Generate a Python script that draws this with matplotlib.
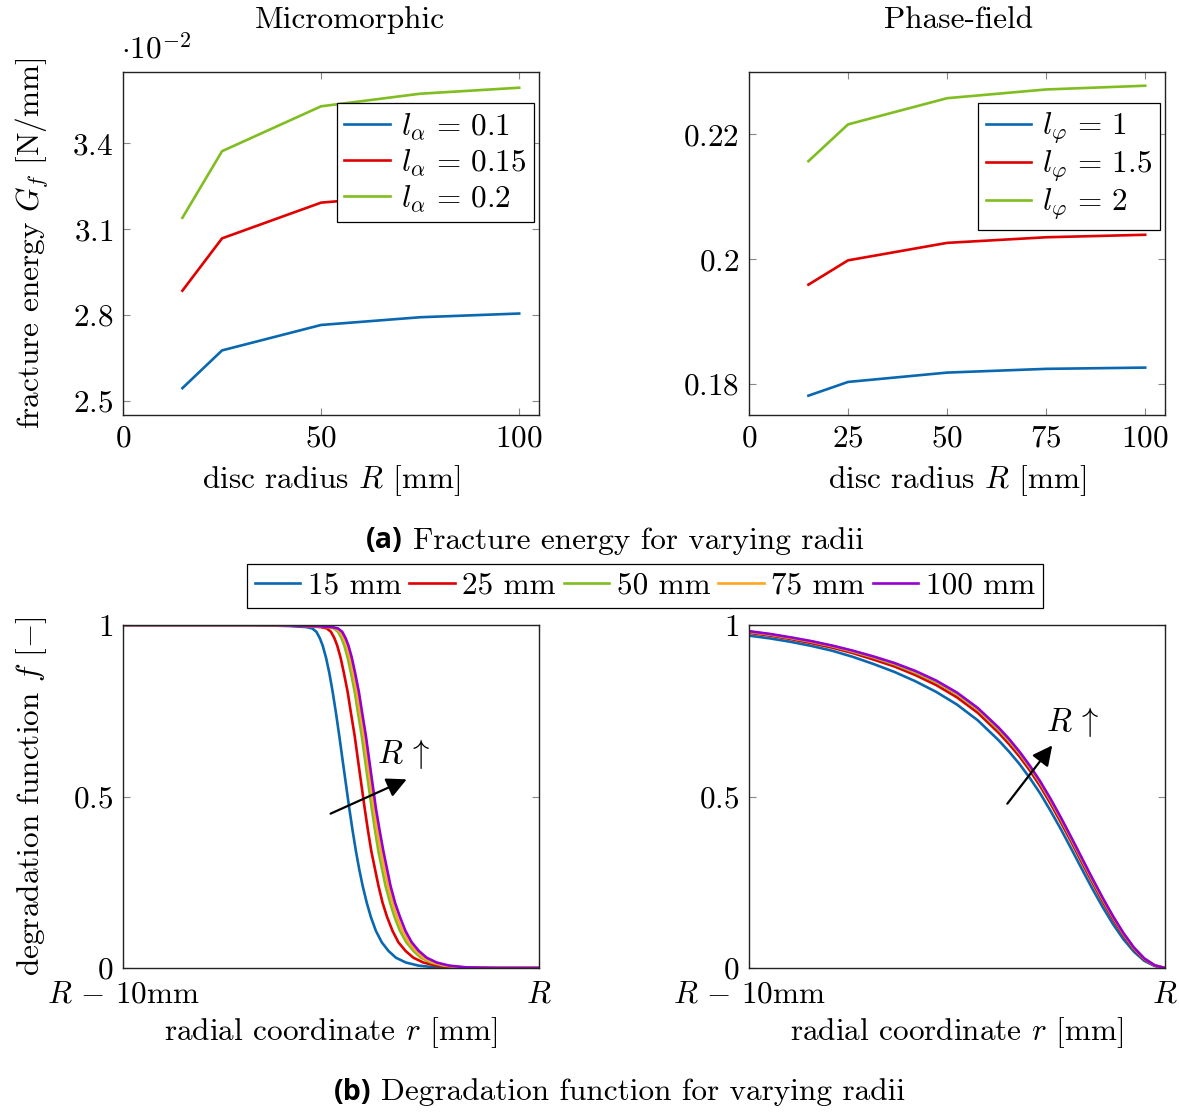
import matplotlib
matplotlib.use("Agg")
import matplotlib.pyplot as plt

plt.rcParams['font.family'] = 'serif'
plt.rcParams['font.serif'] = ['cmr10', 'DejaVu Serif']
plt.rcParams['mathtext.fontset'] = 'cm'
plt.rcParams['axes.formatter.use_mathtext'] = True
plt.rcParams['axes.unicode_minus'] = False

# ---------------- data ----------------
R_vals = [15, 25, 50, 75, 100]

# micromorphic fracture energy (units of 1e-2 N/mm)
gf_micro_01 = [2.544, 2.676, 2.765, 2.792, 2.805]
gf_micro_015 = [2.885, 3.068, 3.193, 3.222, 3.235]
gf_micro_02 = [3.140, 3.373, 3.530, 3.574, 3.595]
micro_labels = [r'$l_\alpha\,=\,0.1$', r'$l_\alpha\,=\,0.15$', r'$l_\alpha\,=\,0.2$']

# phase-field fracture energy (N/mm)
gf_pf_1 = [0.1781, 0.1803, 0.1818, 0.1824, 0.1826]
gf_pf_15 = [0.1959, 0.1998, 0.2026, 0.2035, 0.2039]
gf_pf_2 = [0.2157, 0.2216, 0.2258, 0.2272, 0.2278]
pf_labels = [r'$l_\varphi\,=\,1$', r'$l_\varphi\,=\,1.5$', r'$l_\varphi\,=\,2$']

micro_yticks = [2.5, 2.8, 3.1, 3.4]
pf_yticks = [0.18, 0.2, 0.22]

# degradation function, micromorphic (r measured from R-10mm, in mm)
deg_micro_f = [1.0, 1.0, 0.997, 0.994, 0.99, 0.98, 0.962, 0.94, 0.905, 0.86,
               0.805, 0.743, 0.676, 0.605, 0.535, 0.465, 0.40, 0.34, 0.287,
               0.24, 0.19, 0.148, 0.108, 0.075, 0.05, 0.03, 0.016, 0.007,
               0.002, 0.0, 0.0]
deg_micro_r15 = [0, 3.0, 4.0, 4.4, 4.55, 4.65, 4.73, 4.80, 4.88, 4.96, 5.04,
                 5.12, 5.20, 5.28, 5.36, 5.44, 5.52, 5.60, 5.68, 5.76, 5.86,
                 5.96, 6.08, 6.22, 6.38, 6.56, 6.80, 7.10, 7.50, 8.2, 10]
deg_micro_r25 = [0, 3.3, 4.35, 4.75, 4.90, 5.00, 5.08, 5.15, 5.23, 5.31, 5.40,
                 5.48, 5.57, 5.65, 5.73, 5.81, 5.89, 5.97, 6.06, 6.14, 6.24,
                 6.35, 6.48, 6.62, 6.79, 6.98, 7.22, 7.52, 7.92, 8.6, 10]
deg_micro_r50 = [0, 3.5, 4.5, 4.92, 5.07, 5.17, 5.25, 5.32, 5.40, 5.48, 5.57,
                 5.65, 5.74, 5.82, 5.90, 5.98, 6.06, 6.14, 6.23, 6.31, 6.42,
                 6.53, 6.66, 6.81, 6.98, 7.16, 7.40, 7.70, 8.10, 8.8, 10]
deg_micro_r75 = [0, 3.55, 4.55, 4.97, 5.12, 5.22, 5.30, 5.37, 5.45, 5.53, 5.62,
                 5.70, 5.79, 5.87, 5.95, 6.03, 6.11, 6.20, 6.29, 6.37, 6.48,
                 6.59, 6.72, 6.87, 7.04, 7.22, 7.46, 7.76, 8.16, 8.9, 10]
deg_micro_r100 = [0, 3.6, 4.6, 5.02, 5.17, 5.27, 5.35, 5.42, 5.50, 5.58, 5.67,
                  5.75, 5.84, 5.92, 6.00, 6.08, 6.17, 6.26, 6.35, 6.43, 6.54,
                  6.66, 6.79, 6.94, 7.11, 7.30, 7.54, 7.84, 8.24, 9.0, 10]

# degradation function, phase-field
deg_pf_r = [0, 0.5, 1, 1.5, 2, 2.5, 3, 3.5, 4, 4.5, 5, 5.5, 6, 6.25, 6.5,
            6.75, 7, 7.25, 7.5, 7.75, 8, 8.25, 8.5, 8.75, 9, 9.25, 9.5, 9.75, 10]
deg_pf_f15 = [0.969, 0.961, 0.951, 0.939, 0.925, 0.907, 0.886, 0.863, 0.836,
              0.805, 0.768, 0.722, 0.664, 0.631, 0.595, 0.554, 0.509, 0.458,
              0.404, 0.347, 0.289, 0.232, 0.178, 0.128, 0.084, 0.048, 0.021,
              0.006, 0.0]
deg_pf_f25 = [0.977, 0.969, 0.959, 0.947, 0.934, 0.918, 0.899, 0.879, 0.854,
              0.825, 0.789, 0.744, 0.686, 0.653, 0.617, 0.576, 0.530, 0.479,
              0.424, 0.367, 0.308, 0.250, 0.194, 0.142, 0.095, 0.055, 0.025,
              0.007, 0.0]
deg_pf_f50 = [0.980, 0.972, 0.962, 0.951, 0.938, 0.922, 0.905, 0.885, 0.861,
              0.833, 0.798, 0.753, 0.695, 0.662, 0.626, 0.585, 0.539, 0.488,
              0.433, 0.375, 0.316, 0.257, 0.201, 0.148, 0.099, 0.058, 0.027,
              0.008, 0.0]
deg_pf_f75 = [0.981, 0.973, 0.963, 0.952, 0.939, 0.924, 0.907, 0.888, 0.864,
              0.836, 0.801, 0.756, 0.699, 0.666, 0.629, 0.588, 0.542, 0.491,
              0.436, 0.378, 0.319, 0.260, 0.203, 0.150, 0.101, 0.059, 0.028,
              0.008, 0.0]
deg_pf_f100 = [0.982, 0.974, 0.964, 0.953, 0.940, 0.925, 0.908, 0.889, 0.866,
               0.838, 0.803, 0.758, 0.701, 0.668, 0.631, 0.590, 0.544, 0.493,
               0.438, 0.380, 0.321, 0.262, 0.205, 0.151, 0.102, 0.060, 0.028,
               0.008, 0.0]

radius_labels = ['15 mm', '25 mm', '50 mm', '75 mm', '100 mm']

# ---------------- style ----------------
C_BLUE, C_RED, C_GREEN, C_ORANGE, C_PURPLE = '#0a68b0', '#e10000', '#80bd20', '#ffa51f', '#9400d3'
colors5 = [C_BLUE, C_RED, C_GREEN, C_ORANGE, C_PURPLE]
FS = 22.5
LW = 1.9
W, H = 1179, 1113

fig = plt.figure(figsize=(W / 100, H / 100), dpi=100)


def add_ax(left, top, w=416, h=343):
    return fig.add_axes([left / W, 1 - (top + h) / H, w / W, h / H])


def style(ax):
    for s in ax.spines.values():
        s.set_linewidth(1.0)
        s.set_color('#222222')
    ax.tick_params(direction='in', length=5, width=0.8, color='#888888',
                   top=True, right=True, labelsize=FS, pad=7)


ax1 = add_ax(123, 72)
ax2 = add_ax(749, 72)
ax3 = add_ax(123, 625)
ax4 = add_ax(749, 625)
for a in (ax1, ax2, ax3, ax4):
    style(a)

# ---- top-left: micromorphic fracture energy
for ys, c, lab in zip([gf_micro_01, gf_micro_015, gf_micro_02],
                      [C_BLUE, C_RED, C_GREEN], micro_labels):
    ax1.plot(R_vals, ys, color=c, lw=LW, label=lab)
ax1.set_xlim(0, 105)
ax1.set_ylim(2.45, 3.65)
ax1.set_xticks([0, 50, 100])
ax1.set_xticklabels([r'$0$', r'$50$', r'$100$'])
ax1.set_yticks(micro_yticks)
ax1.set_yticklabels([r'$%g$' % v for v in micro_yticks])
ax1.set_xlabel(r'disc radius $R$ [mm]', fontsize=FS)
ax1.set_ylabel(r'fracture energy $G_f$ [N/mm]', fontsize=FS)
ax1.xaxis.set_label_coords(0.5, -(481 - 415) / 343)
ax1.xaxis.label.set_va('center')
ax1.yaxis.set_label_coords((32 - 123) / 416, 0.5)
ax1.yaxis.label.set_va('center')
leg_kw = dict(fontsize=FS, frameon=True, fancybox=False, framealpha=1,
              edgecolor='black', borderpad=0.25, handlelength=1.45,
              handletextpad=0.35, labelspacing=0.17, borderaxespad=0)
l1 = ax1.legend(loc='upper right', bbox_to_anchor=(1 - 5 / 416, 1 - 31 / 343), **leg_kw)
l1.get_frame().set_linewidth(0.9)

# ---- top-right: phase-field fracture energy
for ys, c, lab in zip([gf_pf_1, gf_pf_15, gf_pf_2],
                      [C_BLUE, C_RED, C_GREEN], pf_labels):
    ax2.plot(R_vals, ys, color=c, lw=LW, label=lab)
ax2.set_xlim(0, 105)
ax2.set_ylim(0.175, 0.230)
ax2.set_xticks([0, 25, 50, 75, 100])
ax2.set_xticklabels([r'$%d$' % v for v in [0, 25, 50, 75, 100]])
ax2.set_yticks(pf_yticks)
ax2.set_yticklabels([r'$%g$' % v for v in pf_yticks])
ax2.set_xlabel(r'disc radius $R$ [mm]', fontsize=FS)
ax2.xaxis.set_label_coords(0.5, -(481 - 415) / 343)
ax2.xaxis.label.set_va('center')
l2 = ax2.legend(loc='upper right', bbox_to_anchor=(1 - 5 / 416, 1 - 31 / 343),
                **dict(leg_kw, labelspacing=0.1))
l2.get_frame().set_linewidth(0.9)

# ---- bottom-left: micromorphic degradation
handles = []
for rs, c, lab in zip([deg_micro_r15, deg_micro_r25, deg_micro_r50, deg_micro_r75, deg_micro_r100],
                      colors5, radius_labels):
    h, = ax3.plot(rs, deg_micro_f, color=c, lw=LW, label=lab)
    handles.append(h)

# ---- bottom-right: phase-field degradation
for fs, c, lab in zip([deg_pf_f15, deg_pf_f25, deg_pf_f50, deg_pf_f75, deg_pf_f100],
                      colors5, radius_labels):
    ax4.plot(deg_pf_r, fs, color=c, lw=LW, label=lab)

for a in (ax3, ax4):
    a.set_xlim(0, 10)
    a.set_ylim(0, 1)
    a.set_xticks([0, 10])
    a.set_xticklabels([r'$R\,-\,10\mathrm{mm}$', r'$R$'])
    a.set_yticks([0, 0.5, 1])
    a.set_yticklabels([r'$0$', r'$0.5$', r'$1$'])
    a.set_xlabel(r'radial coordinate $r$ [mm]', fontsize=FS)
    a.xaxis.set_label_coords(0.5, -(1033 - 968) / 343)
    a.xaxis.label.set_va('center')
    a.tick_params(axis='x', pad=9)

ax3.set_ylabel(r'degradation function $f$ [$-$]', fontsize=FS)
ax3.yaxis.set_label_coords((32 - 123) / 416, 0.5)
ax3.yaxis.label.set_va('center')

arrow_kw = dict(arrowstyle='-|>', color='black', lw=1.6, mutation_scale=30,
                shrinkA=0, shrinkB=0)
ax3.annotate('', xy=(6.82, 0.55), xytext=(4.99, 0.45), arrowprops=arrow_kw)
ax3.text(6.74, 0.625, r'$R\,\uparrow$', fontsize=FS + 1, ha='center', va='center')
ax4.annotate('', xy=(7.29, 0.649), xytext=(6.21, 0.479), arrowprops=arrow_kw)
ax4.text(7.77, 0.717, r'$R\,\uparrow$', fontsize=FS + 1, ha='center', va='center')

# bottom legend
lg = fig.legend(handles=handles, loc='center', ncol=5,
                bbox_to_anchor=(645 / W, 1 - 586 / H), fontsize=FS,
                frameon=True, fancybox=False, framealpha=1, edgecolor='black',
                borderpad=0.25, handlelength=1.45, handletextpad=0.25,
                columnspacing=0.25)
lg.get_frame().set_linewidth(0.9)

# titles and annotations
fig.text(350 / W, 1 - 20 / H, 'Micromorphic', fontsize=FS, ha='center', va='center')
fig.text(959 / W, 1 - 20 / H, 'Phase-field', fontsize=FS, ha='center', va='center')
fig.text(121 / W, 1 - 50 / H, r'$\cdot 10^{-2}$', fontsize=FS, ha='left', va='center')

# captions
fig.text(403 / W, 1 - 541 / H, '(a)', fontsize=FS - 2, fontweight='bold',
         family='Open Sans', ha='right', va='center')
fig.text(413 / W, 1 - 541 / H, 'Fracture energy for varying radii', fontsize=FS,
         ha='left', va='center')
fig.text(371 / W, 1 - 1092 / H, '(b)', fontsize=FS - 2, fontweight='bold',
         family='Open Sans', ha='right', va='center')
fig.text(381 / W, 1 - 1092 / H, 'Degradation function for varying radii', fontsize=FS,
         ha='left', va='center')

fig.savefig('out.png', dpi=100)
